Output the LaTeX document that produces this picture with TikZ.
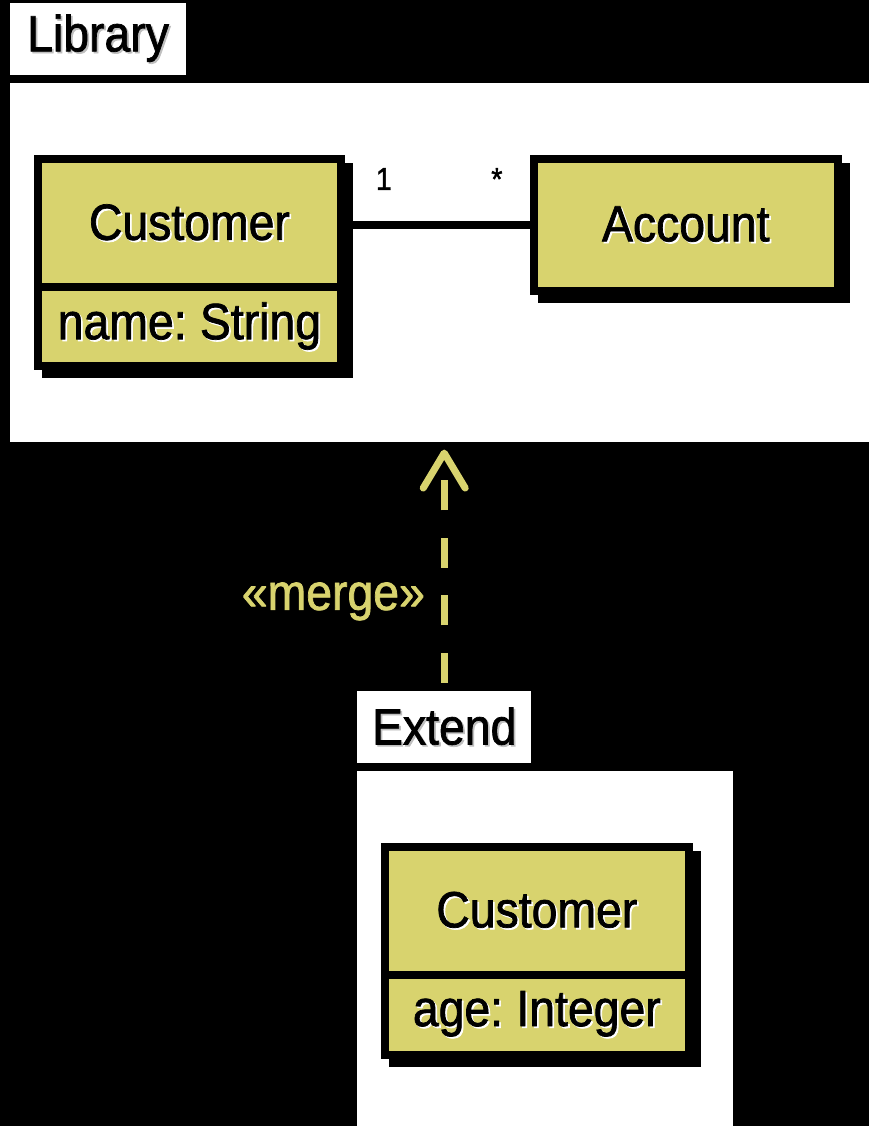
\documentclass[tikz,border=0pt]{standalone}
\usepackage{fontspec}
\setmainfont{Liberation Sans}[FakeStretch=0.91, FakeBold=1.4, WordSpace=0.7]
\usetikzlibrary{positioning,arrows.meta,shadows}

\definecolor{umlyellow}{RGB}{216,211,110}
% text with a small offset shadow behind it
\newcommand{\shtext}[2][white]{\makebox[0pt][l]{\hspace{1pt}\raisebox{-1pt}{\textcolor{#1}{#2}}}#2}

\begin{document}
\begin{tikzpicture}[
    pkg/.style={fill=white, inner sep=0pt, anchor=north west, font=\fontsize{29}{32}\selectfont},
    cls/.style={draw=black, line width=0.16cm, fill=umlyellow, minimum width=6.06cm, inner sep=0pt,
                font=\fontsize{29}{32}\selectfont,
                drop shadow={shadow xshift=0.16cm, shadow yshift=-0.16cm, opacity=1, fill=black, draw=black, line width=0.16cm}},
    mult/.style={inner sep=0pt, anchor=base, font=\fontsize{18}{20}\selectfont},
    merge/.style={draw=umlyellow, line width=0.14cm, dash pattern=on 0.6cm off 0.55cm,
                  -{Straight Barb[length=0.7cm, width=0.84cm, round]}}]

    \fill[black] (0,0) rectangle (17.38,-22.52);

    % package Library
    \node[pkg, minimum width=3.51cm, minimum height=1.43cm] (libtab) at (0.2,-0.06) {\shtext[black!25]{Library}};
    \node[pkg, minimum width=17.18cm, minimum height=7.18cm] (libbody) at (0.2,-1.66) {};

    \node[cls, minimum height=2.57cm] (cust) at (3.79,-4.465) {\shtext{Customer}};
    \node[cls, minimum height=1.58cm, below=-0.16cm of cust] (custattr) {\shtext{name: String}};
    \node[cls, minimum width=6.08cm, minimum height=2.64cm] (acct) at (13.72,-4.5) {\shtext{Account}};

    \draw[line width=0.15cm] (acct.west) -- (acct.west -| cust.east)
        node[mult, pos=0, xshift=-0.66cm, yshift=0.7cm] (manyend) {*}
        node[mult, pos=1, xshift=0.78cm, yshift=0.7cm] (oneend) {1};

    % package Extend
    \node[pkg, minimum width=3.48cm, minimum height=1.44cm] (exttab) at (7.14,-13.82) {\shtext[black!25]{Extend}};
    \node[pkg, minimum width=7.52cm, minimum height=7.1cm] (extbody) at (7.14,-15.42) {};

    \node[cls, minimum width=6.08cm, minimum height=2.56cm] (cust2) at (10.74,-18.22) {\shtext{Customer}};
    \node[cls, minimum width=6.08cm, minimum height=1.6cm, below=-0.16cm of cust2] (cust2attr) {\shtext{age: Integer}};

    \draw[merge, shorten <=0.16cm, shorten >=0.14cm] (exttab.north) -- (exttab.north |- libbody.south)
        node[pos=0.36, left=0.2cm, text=umlyellow, font=\fontsize{29}{32}\selectfont] (mergelbl) {«merge»};
\end{tikzpicture}
\end{document}
